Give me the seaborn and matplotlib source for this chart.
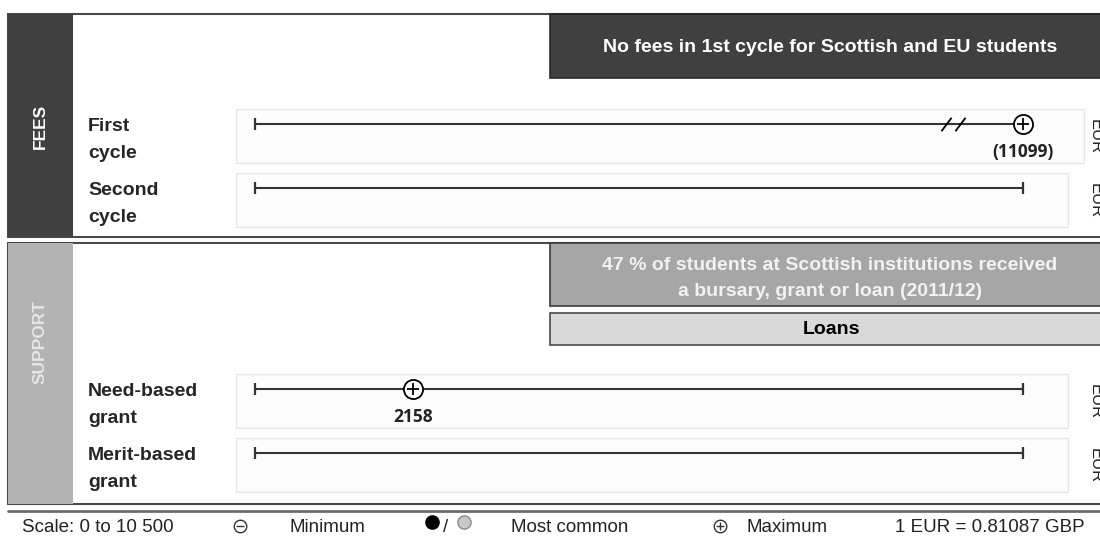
import matplotlib
matplotlib.use("Agg")
import matplotlib.pyplot as plt
import matplotlib.patches as mpatches
import matplotlib.transforms as mtransforms
from matplotlib.lines import Line2D
import seaborn as sns
import pandas as pd
import numpy as np

# ---- data ----
fee_rows = ["First\ncycle", "Second\ncycle"]
fee_max = [11099, np.nan]
support_rows = ["Need-based\ngrant", "Merit-based\ngrant"]
support_max = [2158, np.nan]
scale_min, scale_max = 0, 10500
currency = "EUR"
fees_note = "No fees in 1st cycle for Scottish and EU students"
support_note = ["47 % of students at Scottish institutions received",
                "a bursary, grant or loan (2011/12)"]
loans_note = "Loans"
exchange = "1 EUR = 0.81087 GBP"

sns.set_style("white")
plt.rcParams["font.family"] = ["Liberation Sans", "DejaVu Sans"]

W, H = 1100, 545
fig = plt.figure(figsize=(W / 100, H / 100), dpi=100)
fig.patch.set_facecolor("white")


def fx(x):
    return x / W


def fy(y):
    return 1 - y / H


def rect(x0, y0, x1, y1, **kw):
    fig.add_artist(mpatches.Rectangle((fx(x0), fy(y1)), fx(x1) - fx(x0), fy(y0) - fy(y1),
                                      transform=fig.transFigure, **kw))


def hline(x0, x1, y, **kw):
    fig.add_artist(Line2D([fx(x0), fx(x1)], [fy(y), fy(y)], transform=fig.transFigure, **kw))


def marker(x, y, **kw):
    fig.add_artist(Line2D([fx(x)], [fy(y)], transform=fig.transFigure, ls="none", **kw))


NOTE_SIZE = 14

# ---- panel frames ----
rect(8, 14, 1120, 237, fc="white", ec="#4a4a4a", lw=1.5, zorder=0)
rect(8, 14, 73, 237, fc="#404040", ec="none", zorder=1)
rect(550, 14, 1120, 78, fc="#404040", ec="#2a2a2a", lw=1.2, zorder=1)
fig.text(fx(40), fy(126), "FEES", rotation=90, color="white", fontweight="bold",
         fontsize=12.5, ha="center", va="center")
fig.text(fx(830), fy(47), fees_note, color="white", fontweight="bold",
         fontsize=NOTE_SIZE, ha="center", va="center")

rect(8, 243, 1120, 504, fc="white", ec="#4a4a4a", lw=1.5, zorder=0)
rect(8, 243, 73, 504, fc="#b3b3b3", ec="none", zorder=1)
rect(550, 243, 1120, 306, fc="#a6a6a6", ec="#3a3a3a", lw=1.2, zorder=1)
rect(550, 313, 1120, 345, fc="#d9d9d9", ec="#4a4a4a", lw=1.2, zorder=1)
fig.text(fx(40), fy(342), "SUPPORT", rotation=90, color="#e6e6e6", fontweight="bold",
         fontsize=12.5, ha="center", va="center")
for i, line in enumerate(support_note):
    fig.text(fx(830), fy(265 + 26 * i), line, color="#f2f2f2", fontweight="bold",
             fontsize=NOTE_SIZE, ha="center", va="center")
fig.text(fx(831), fy(330), loans_note, color="black", fontweight="bold",
         fontsize=NOTE_SIZE, ha="center", va="center")

# ---- data rows ----
x_left, x_right = 255, 1023          # pixel span of the 0..10500 scale
row_gap = 64
line_color = "#333333"


def draw_panel(rows, maxima, first_line_y, box_right):
    top = first_line_y - row_gap / 2
    ax = fig.add_axes([fx(x_left), fy(top + row_gap * len(rows)),
                       fx(x_right) - fx(x_left), row_gap * len(rows) / H])
    ax.set_xlim(scale_min, scale_max)
    ax.set_ylim(len(rows) - 0.5, -0.5)
    ax.axis("off")
    ax.patch.set_alpha(0)
    fig_x = mtransforms.blended_transform_factory(fig.transFigure, ax.transData)
    px = ax.transData.transform((scale_max, 0))[0] - ax.transData.transform((scale_min, 0))[0]
    per_px = (scale_max - scale_min) / px

    df = pd.DataFrame({"row": np.arange(len(rows)), "label": rows, "max": maxima})
    df["shown"] = df["max"].clip(upper=scale_max)
    df["over"] = df["max"] > scale_max

    for r in df.itertuples():
        # light row background
        ax.add_patch(mpatches.Rectangle((scale_min - 19 * per_px, r.row - 15 / row_gap),
                                        (box_right[r.row] - 236) * per_px, 54 / row_gap,
                                        fc="#fcfcfc", ec="#e6e6e6", lw=1, clip_on=False, zorder=0))
        ax.hlines(r.row, scale_min, scale_max, color=line_color, lw=1.5, zorder=2)
        ends = [scale_min] if r.over else [scale_min, scale_max]
        ax.plot(ends, [r.row] * len(ends), ls="none", marker="|", ms=8, mew=1.6,
                color=line_color, zorder=3, clip_on=False)
        if r.over:
            for b in (0.900, 0.918):
                ax.scatter([scale_max * b], [r.row], marker=[(-0.75, -1), (0.75, 1)], s=95,
                           color="black", linewidths=1.3, zorder=4)
        for k, part in enumerate(r.label.split("\n")):
            ax.annotate(part, xy=(fx(88), r.row), xycoords=fig_x, xytext=(0, -7 - 27 * k),
                        textcoords="offset pixels", ha="left", va="baseline", fontsize=14,
                        fontweight="bold")
        ax.annotate(currency, xy=(fx(1088), r.row), xycoords=fig_x, xytext=(0, -13),
                    textcoords="offset pixels", ha="left", va="center", rotation=270,
                    fontsize=12, color="#222222")

    pts = df.dropna(subset=["max"])
    sns.scatterplot(data=pts, x="shown", y="row", marker="o", s=190, color="white",
                    edgecolor="black", linewidth=1.3, ax=ax, zorder=5, clip_on=False, legend=False)
    sns.scatterplot(data=pts, x="shown", y="row", marker="+", s=70, color="black",
                    linewidth=1.3, ax=ax, zorder=6, clip_on=False, legend=False)
    for r in pts.itertuples():
        txt = f"({int(r.max)})" if r.over else f"{int(r.max)}"
        ax.annotate(txt, xy=(r.shown, r.row), xytext=(0, -28), textcoords="offset pixels",
                    ha="center", va="center", fontsize=12.5, fontweight="bold",
                    family=["Open Sans", "DejaVu Sans"], color="#222222")
    ax.set_xlabel("")
    ax.set_ylabel("")
    return ax


draw_panel(fee_rows, fee_max, 124, [1084, 1068])
draw_panel(support_rows, support_max, 389, [1068, 1068])

# ---- legend strip ----
hline(8, 1110, 511, color="#6e6e6e", lw=2)
ly = 527
leg_kw = dict(fontsize=13.5, color="#222222", va="center")
fig.text(fx(22), fy(ly), "Scale: 0 to 10 500", ha="left", **leg_kw)
marker(240, ly - 1, marker="o", ms=9, mfc="white", mec="#333333", mew=1)
marker(240, ly - 1, marker="_", ms=6, mec="#333333", mew=1)
fig.text(fx(289), fy(ly), "Minimum", ha="left", **leg_kw)
marker(432, 522, marker="o", ms=9.5, mfc="black", mec="black")
fig.text(fx(446), fy(ly), "/", ha="center", **leg_kw)
marker(464, 522, marker="o", ms=9.5, mfc="#c8c8c8", mec="#8a8a8a", mew=1)
fig.text(fx(511), fy(ly), "Most common", ha="left", **leg_kw)
marker(720, ly - 1, marker="o", ms=9, mfc="white", mec="#333333", mew=1)
marker(720, ly - 1, marker="+", ms=6, mec="#333333", mew=1)
fig.text(fx(747), fy(ly), "Maximum", ha="left", **leg_kw)
fig.text(fx(1085), fy(ly), exchange, ha="right", **leg_kw)

fig.savefig("out.png", dpi=100, facecolor="white")
